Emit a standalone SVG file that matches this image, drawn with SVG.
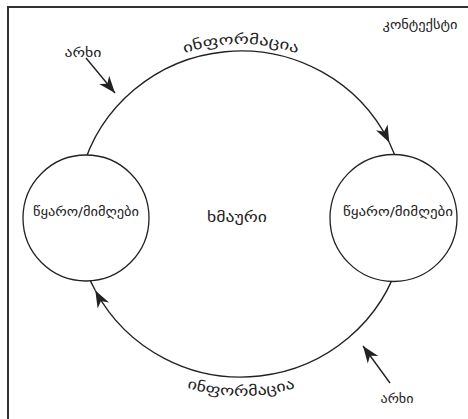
<svg xmlns="http://www.w3.org/2000/svg" width="468" height="419" viewBox="0 0 468 419">
<style>
.ln{fill:none;stroke:#222;stroke-width:1.4}
.nd{fill:#fff;stroke:#222;stroke-width:1.3}
.tx{font-family:"DejaVu Sans",sans-serif;fill:#222}
</style>
<defs>
<marker id="ah" markerUnits="userSpaceOnUse" viewBox="-18 -8 19 16" refX="0" refY="0" markerWidth="19" markerHeight="16" orient="auto">
<path d="M0,0 L-17,-6.5 L-12,0 L-17,6.5 Z" fill="#222"/>
</marker>
<path id="tp1" d="M92,129 A172,170 0 0 1 390,129"/>
<path id="tp2" d="M83.4,305 A182,182 0 0 0 398.6,305"/>
</defs>
<rect width="468" height="419" fill="#fff"/>
<g id="frame">
<path d="M8,420 L8,7 L470,7" fill="none" stroke="#333" stroke-width="2"/>
</g>
<g id="connectors">
<path class="ln" d="M81.6,171.8 A165,163 0 0 1 389.3,142.5" marker-end="url(#ah)"/>
<path class="ln" d="M389.3,142.5 A165,163 0 0 1 400.4,171.8"/>
<path class="ln" d="M400.4,256.2 A165,163 0 0 1 95.3,290.5" marker-end="url(#ah)"/>
<path class="ln" d="M95.3,290.5 A165,163 0 0 1 81.6,256.2"/>
<line class="ln" x1="86" y1="58" x2="115" y2="93" marker-end="url(#ah)"/>
<line class="ln" x1="390" y1="383" x2="363" y2="346" marker-end="url(#ah)"/>
</g>
<g id="node-left">
<circle class="nd" cx="86" cy="218" r="63"/>
<text class="tx" x="86" y="216" font-size="12" text-anchor="middle" textLength="106" lengthAdjust="spacingAndGlyphs">წყარო/მიმღები</text>
</g>
<g id="node-right">
<circle class="nd" cx="393.5" cy="218" r="63.5"/>
<text class="tx" x="398" y="216" font-size="12" text-anchor="middle" textLength="110" lengthAdjust="spacingAndGlyphs">წყარო/მიმღები</text>
</g>
<g id="labels">
<text class="tx" font-size="14" text-anchor="middle"><textPath href="#tp1" startOffset="50%" textLength="115" lengthAdjust="spacingAndGlyphs">ინფორმაცია</textPath></text>
<text class="tx" font-size="14" text-anchor="middle"><textPath href="#tp2" startOffset="50%" textLength="110" lengthAdjust="spacingAndGlyphs">ინფორმაცია</textPath></text>
<text class="tx" x="237" y="222" font-size="14" text-anchor="middle" textLength="60" lengthAdjust="spacingAndGlyphs">ხმაური</text>
<text class="tx" x="420" y="29" font-size="12" text-anchor="middle" textLength="75" lengthAdjust="spacingAndGlyphs">კონტექსტი</text>
<text class="tx" x="83" y="57" font-size="12" text-anchor="middle" textLength="37" lengthAdjust="spacingAndGlyphs">არხი</text>
<text class="tx" x="397" y="403" font-size="12" text-anchor="middle" textLength="33" lengthAdjust="spacingAndGlyphs">არხი</text>
</g>
</svg>
